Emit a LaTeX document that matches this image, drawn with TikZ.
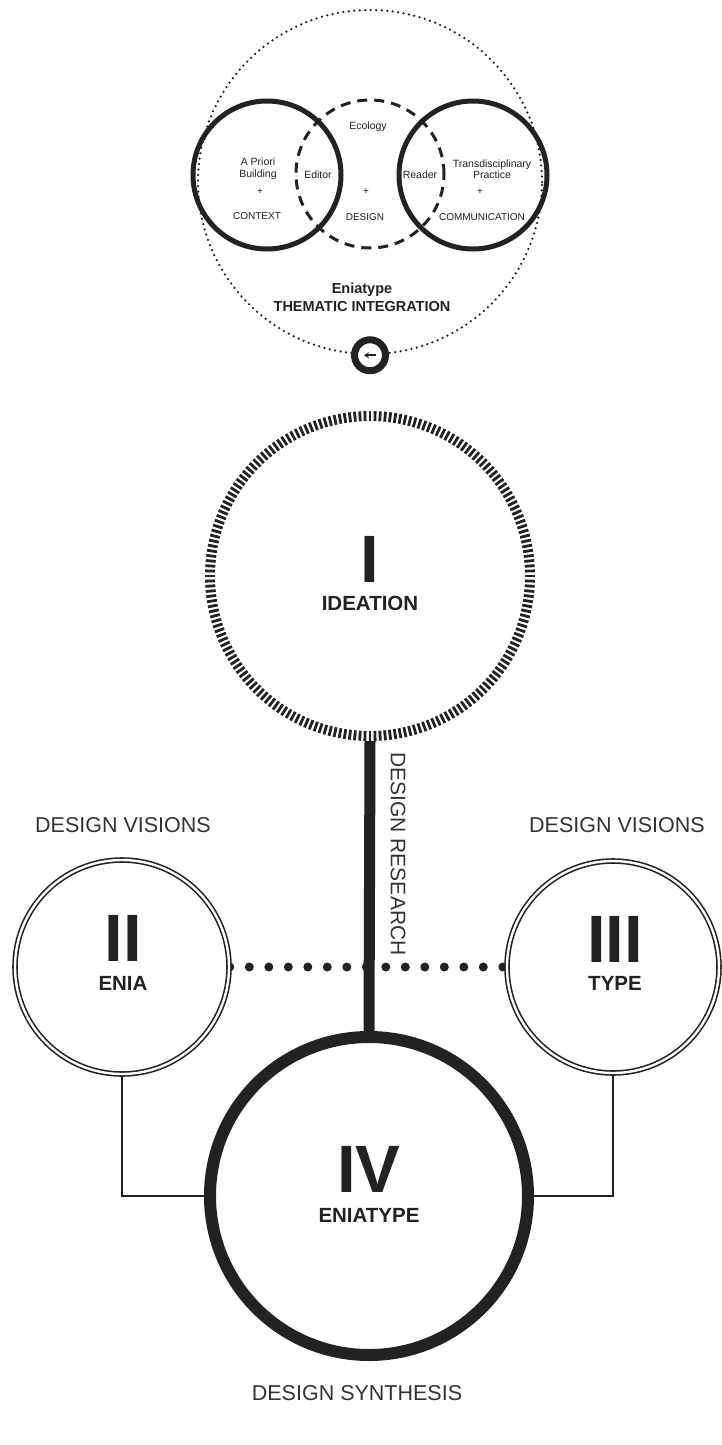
\documentclass[tikz,border=0pt]{standalone}
\usepackage{fontspec}
\setmainfont{Liberation Sans}
\usetikzlibrary{arrows.meta,backgrounds}
\definecolor{ink}{HTML}{222222}
\definecolor{txt}{HTML}{333333}
\begin{document}
\begin{tikzpicture}[x=1pt,y=-1pt,
  solidring/.style={circle, draw=ink, inner sep=0pt, fill=white},
  dblring/.style={circle, draw=ink, line width=1.6pt, double=white, double distance=2.4pt, inner sep=0pt, fill=white},
  lbl/.style={text=txt, font=\fontsize{21.5}{24}\selectfont, inner sep=0pt},
  num/.style={text=ink, font=\bfseries\fontsize{67}{67}\selectfont, inner sep=0pt, anchor=base},
  sub/.style={text=ink, font=\bfseries\fontsize{20.5}{22}\selectfont, inner sep=0pt, anchor=base},
  small/.style={text=ink, font=\fontsize{10.5}{11.5}\selectfont, inner sep=0pt, align=center},
  caps/.style={text=ink, font=\fontsize{10}{11}\selectfont, inner sep=0pt},
  ttl/.style={text=ink, font=\bfseries\fontsize{14.5}{16}\selectfont, inner sep=0pt},
  tick/.style={draw=ink, line width=2.8pt},
  thinlink/.style={draw=ink, line width=1.8pt},
  thicklink/.style={draw=ink, line width=11pt},
  dotlink/.style={draw=ink, line width=9pt, line cap=round, dash pattern=on 0pt off 19.5pt}
]
\useasboundingbox (0,0) rectangle (722,1445);

% ---------- top: thematic integration ----------
\node[circle, draw=ink, line width=2.5pt, line cap=round, dash pattern=on 0pt off 5.5pt, minimum size=344pt, inner sep=0pt] (outer) at (370,182) {};
\node[circle, draw=ink, line width=5pt, minimum size=148pt, inner sep=0pt] (context) at (267,175) {};
\node[circle, draw=ink, line width=5pt, minimum size=148pt, inner sep=0pt] (comm) at (473,175) {};
\node[circle, draw=ink, line width=3pt, dash pattern=on 10pt off 7pt, minimum size=148pt, inner sep=0pt] (design) at (370,174) {};

\node[small] (apriori) at (258,169) {A Priori\\Building};
\node[caps] (plusA) at (260,192) {+};
\node[caps] (contexttxt) at (257,216) {CONTEXT};
\node[small] (ecology) at (368,127) {Ecology};
\node[caps] (plusB) at (366,192) {+};
\node[caps] (designtxt) at (365,217) {DESIGN};
\node[small] (editor) at (318,175) {Editor};
\node[small] (reader) at (420,175) {Reader};
\node[small] (trans) at (492,169) {Transdisciplinary\\Practice};
\node[caps] (plusC) at (480,192) {+};
\node[caps] (commtxt) at (482,217) {COMMUNICATION};
\node[ttl] (eniatypesmall) at (362,290) {Eniatype};
\node[ttl] (thematic) at (362,307) {THEMATIC INTEGRATION};

\node[circle, draw=ink, line width=7pt, fill=white, minimum size=31pt, inner sep=0pt] (go) at (outer.south) {};
\draw[ink, line width=2pt, -{Stealth[length=5pt,width=6pt]}] ([xshift=6pt]go.center) -- ([xshift=-6pt]go.center);

% ---------- I : ideation ----------
\node[circle, minimum size=330pt, inner sep=0pt] (ideation) at (370,576) {};
\foreach \a in {0,1.8,...,358.3}
  \draw[tick] (ideation.center) ++(\a:155) -- ++(\a:10);
\node[num] (numI) at (370,582) {I};
\node[sub] (ideationtxt) at (370,610) {IDEATION};

% ---------- II / III ----------
\node[dblring, minimum size=214pt] (enia) at (122,967) {};
\node[num] (numII) at (123,961) {II};
\node[sub] (eniatxt) at (123,990) {ENIA};

\node[dblring, minimum size=212pt] (type) at (613,967) {};
\node[num] (numIII) at (615,962) {III};
\node[sub] (typetxt) at (615,990) {TYPE};

% ---------- IV ----------
\node[solidring, line width=12pt, minimum size=318pt] (eniatype) at (369,1196) {};
\node[num] (numIV) at (369,1192) {IV};
\node[sub] (eniatypetxt) at (369,1222) {ENIATYPE};

% ---------- labels ----------
\node[lbl, anchor=base] (visL) at (123,832.5) {DESIGN VISIONS};
\node[lbl, anchor=base] (visR) at (617,832.5) {DESIGN VISIONS};
\node[lbl, anchor=base] (synth) at (357,1400.5) {DESIGN SYNTHESIS};
\node[lbl, rotate=-90, font=\fontsize{21}{24}\selectfont] (research) at (398,854) {DESIGN RESEARCH};

% ---------- connectors (behind) ----------
\begin{scope}[on background layer]
  \fill[white] (0,0) rectangle (722,1445);
  \draw[dotlink] (enia.east) -- (type.west);
  \draw[thicklink] (ideation.south) -- (eniatype.north);
  \draw[thinlink] (enia.south) |- (eniatype.west);
  \draw[thinlink] (type.south) |- (eniatype.east);
\end{scope}
\end{tikzpicture}
\end{document}
